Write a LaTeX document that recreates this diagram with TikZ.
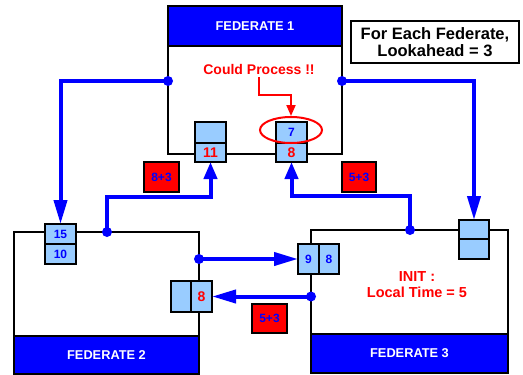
\documentclass[tikz,border=0pt]{standalone}
\usepackage{fontspec}
\setmainfont{Liberation Sans}
\usetikzlibrary{arrows.meta,calc,shapes.geometric}
\definecolor{hdrblue}{HTML}{0000FF}
\definecolor{cellblue}{HTML}{99CCFF}
\definecolor{alert}{HTML}{FF0000}
\tikzset{
  box/.style={draw=black, line width=2pt, inner sep=0pt, outer sep=0pt, anchor=north west},
  fedbody/.style={box, fill=white},
  fedhead/.style={box, fill=hdrblue, text=white, font=\bfseries\fontsize{12.8}{14}\selectfont},
  cell/.style={box, line width=1.8pt, fill=cellblue, text=hdrblue, font=\bfseries\fontsize{12}{12}\selectfont},
  redval/.style={text=alert, font=\bfseries\fontsize{14}{14}\selectfont},
  stamp/.style={box, line width=1.8pt, fill=alert, text=hdrblue, font=\bfseries\fontsize{12}{12}\selectfont},
  link/.style={draw=hdrblue, line width=4pt},
  longtip/.style={-{Triangle[length=24pt,width=13pt]}},
  shorttip/.style={-{Triangle[length=17pt,width=13pt]}},
  dot/.style={fill=hdrblue}
}
\begin{document}
\begin{tikzpicture}[x=1pt,y=-1pt]
\useasboundingbox (0,0) rectangle (523,375);

% federate bodies and title bars
\node[fedbody, minimum width=174pt, minimum height=148pt] (f1) at (168,6) {};
\node[fedhead, minimum width=174pt, minimum height=40pt] (f1h) at (168,6) {FEDERATE 1};
\node[fedbody, minimum width=185pt, minimum height=142pt] (f2) at (14,232) {};
\node[fedhead, minimum width=185pt, minimum height=38pt] (f2h) at (14,336) {FEDERATE 2};
\node[fedbody, minimum width=197pt, minimum height=143pt] (f3) at (311,230) {};
\node[fedhead, minimum width=197pt, minimum height=39pt] (f3h) at (311,334) {FEDERATE 3};

% lookahead note
\node[box, line width=2pt, minimum width=168pt, minimum height=42pt, align=center,
      font=\bfseries\fontsize{16.5}{17.5}\selectfont] (note) at (351,21)
      {For Each Federate,\\Lookahead = 3};

% connection points on the federate borders
\coordinate (d1) at ($(f1.north west)+(0,75)$);
\coordinate (d6) at ($(f1.north east)+(0,75)$);
\coordinate (d2) at ($(f2.north west)+(93,0)$);
\coordinate (d4) at ($(f2.north east)+(0,27)$);
\coordinate (d3) at ($(f3.north west)+(99,0)$);
\coordinate (d5) at ($(f3.north west)+(0,66.5)$);

% queue cells
\node[cell, minimum width=31pt, minimum height=21pt] (q1la) at (195,122) {};
\node[cell, minimum width=31pt, minimum height=19pt, redval] (q1lb) at (195,143) {11};
\node[cell, minimum width=31pt, minimum height=21pt] (q1ra) at (276,122) {7};
\node[cell, minimum width=31pt, minimum height=19pt, redval] (q1rb) at (276,143) {8};
\node[cell, minimum width=31pt, minimum height=20pt] (q2a) at (45,224) {15};
\node[cell, minimum width=31pt, minimum height=20pt] (q2b) at (45,244) {10};
\node[cell, minimum width=20pt, minimum height=31pt] (q2l) at (171,281) {};
\node[cell, minimum width=21pt, minimum height=31pt, redval] (q2r) at (191,281) {8};
\node[cell, minimum width=21pt, minimum height=30pt] (q3l) at (298,244) {9};
\node[cell, minimum width=20pt, minimum height=30pt] (q3r) at (319,244) {8};
\node[cell, minimum width=30pt, minimum height=19pt] (q3a) at (459,220) {};
\node[cell, minimum width=30pt, minimum height=20pt] (q3b) at (459,239) {};

% message links
\draw[link, longtip] (d1) -| (q2a.north);
\draw[link, longtip] (d6) -| (q3a.north);
\draw[link, shorttip] (d2) -- ++(0,-35) -| (q1lb.south);
\draw[link, shorttip] (d3) -- ++(0,-34) -| (q1rb.south);
\draw[link, longtip] (d4) -- (q3l.west);
\draw[link, longtip] (d5) -- (q2r.east);
\foreach \p in {d1,d2,d3,d4,d5,d6} \fill[dot] (\p) circle (5pt);

% timestamp tags
\node[stamp, minimum width=35pt, minimum height=30pt] (r1) at (144,162) {8+3};
\node[stamp, minimum width=34pt, minimum height=30pt] (r2) at (342,162) {5+3};
\node[stamp, minimum width=35pt, minimum height=29pt] (r3) at (252,304) {5+3};

% processable event in federate 1
\node[draw=alert, line width=2pt, ellipse, minimum width=62pt, minimum height=26pt] (ell) at (291,130) {};
\node[redval, inner sep=0pt] (cp) at (259,69) {Could Process !!};
\draw[draw=alert, line width=2pt, -{Triangle[length=11pt,width=9pt]}]
  ($(cp.south)+(0,3)$) -- ++(0,18) -| (ell.north);

% initial state of federate 3
\node[redval, align=center, font=\bfseries\fontsize{14.5}{16}\selectfont] (init) at (417,285)
  {INIT :\\Local Time = 5};
\end{tikzpicture}
\end{document}
